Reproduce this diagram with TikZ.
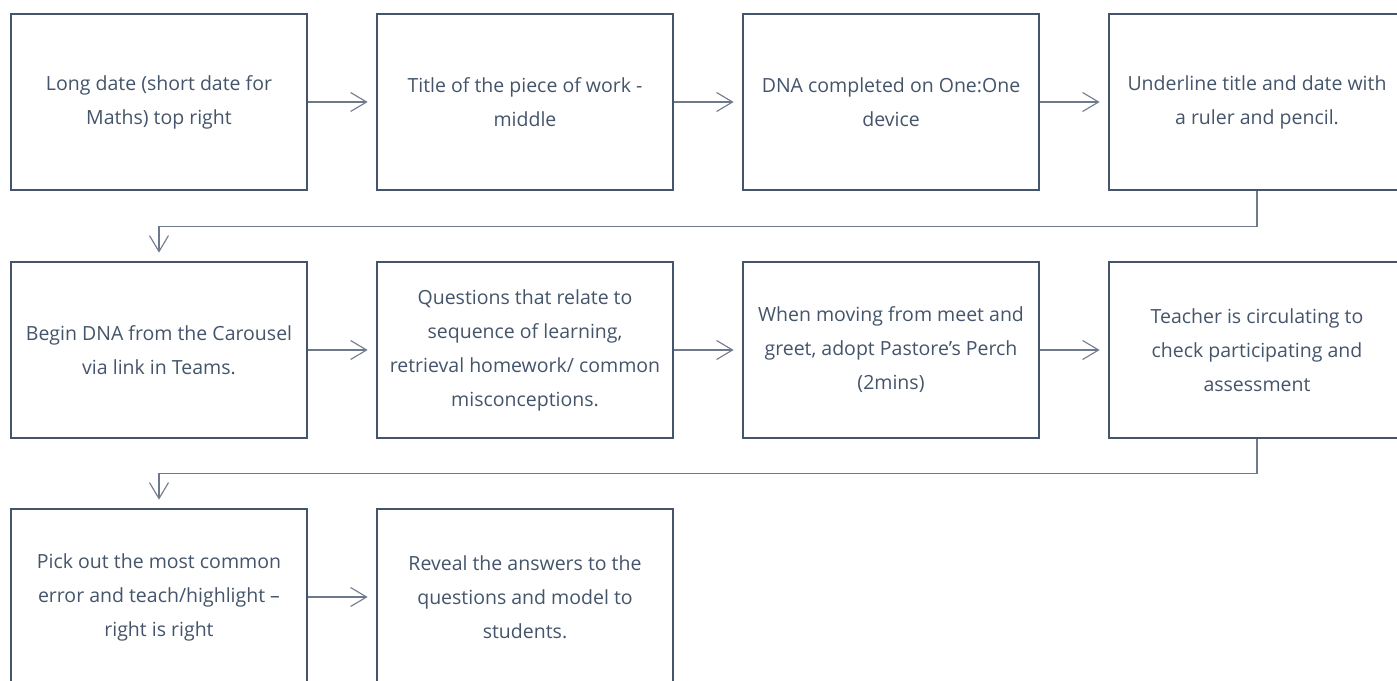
\documentclass[tikz,border=0pt]{standalone}
\usepackage{fontspec}
\setmainfont{Open Sans}
\usetikzlibrary{arrows.meta}
\definecolor{slate}{HTML}{44546A}
\definecolor{wire}{HTML}{6E7A8C}
\begin{document}
\begin{tikzpicture}[x=1pt,y=-1pt,
  stepbox/.style={draw=slate,line width=2.7pt,rectangle,inner sep=0pt,
    minimum width=296pt,minimum height=176pt,align=center,text=slate,
    font=\fontsize{19.5}{34}\selectfont,
    execute at begin node={\rule{0pt}{27pt}}},
  conn/.style={draw=wire,line width=1.1pt,shorten >=8pt,
    -{Straight Barb[length=16pt,width=19pt,line width=1.1pt]}}]
\useasboundingbox (0,0) rectangle (1397,680);
\clip (0,0) rectangle (1397,680);
% first row
\node[stepbox] (b1) at (159,102) {Long date (short date for\\Maths) top right};
\node[stepbox] (b2) at (525,102) {Title of the piece of work -\\middle};
\node[stepbox] (b3) at (891,102) {DNA completed on One:One\\device};
\node[stepbox] (b4) at (1257,102) {Underline title and date with\\a ruler and pencil.};
% second row
\node[stepbox] (b5) at (159,350) {Begin DNA from the Carousel\\via link in Teams.};
\node[stepbox] (b6) at (525,350) {Questions that relate to\\sequence of learning,\\retrieval homework/ common\\misconceptions.};
\node[stepbox] (b7) at (891,350) {When moving from meet and\\greet, adopt Pastore’s Perch\\(2mins)};
\node[stepbox] (b8) at (1257,350) {Teacher is circulating to\\check participating and\\assessment};
% third row
\node[stepbox] (b9) at (159,597) {Pick out the most common\\error and teach/highlight –\\right is right};
\node[stepbox] (b10) at (525,597) {Reveal the answers to the\\questions and model to\\students.};
% connectors
\draw[conn] (b1.east) -- (b2.west);
\draw[conn] (b2.east) -- (b3.west);
\draw[conn] (b3.east) -- (b4.west);
\draw[conn] (b4.south) -- ++(0,35) -| (b5.north);
\draw[conn] (b5.east) -- (b6.west);
\draw[conn] (b6.east) -- (b7.west);
\draw[conn] (b7.east) -- (b8.west);
\draw[conn] (b8.south) -- ++(0,34) -| (b9.north);
\draw[conn] (b9.east) -- (b10.west);
\end{tikzpicture}
\end{document}
